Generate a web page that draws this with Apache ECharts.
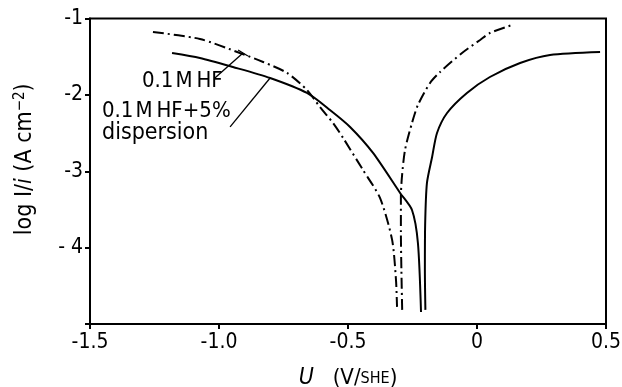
<!DOCTYPE html>
<html>
<head>
<meta charset="utf-8">
<script src="https://cdn.jsdelivr.net/npm/echarts@6/dist/echarts.min.js"></script>
<style>
html,body{margin:0;padding:0;background:#fff;}
#chart{width:622px;height:387px;}
</style>
</head>
<body>
<div id="chart"></div>
<script>
// ---- data (U in V/SHE, log|i| in A cm^-2) ----
var xTicks = [-1.5, -1.0, -0.5, 0, 0.5];
var xTickLabels = ['-1.5', '-1.0', '-0.5', '0', '0.5'];
var yTicks = [-5, -4, -3, -2, -1];
var yTickLabels = ['', '- 4', '-3', '-2', '-1'];

// 0.1 M HF (dash-dot), cathodic branch
var hfCathU = [-1.256, -1.074, -0.919, -0.829, -0.736, -0.659, -0.609, -0.558, -0.519, -0.442, -0.376, -0.329, -0.314, -0.310];
var hfCathLog = [-1.177, -1.268, -1.452, -1.569, -1.713, -1.936, -2.158, -2.368, -2.564, -2.983, -3.349, -3.899, -4.423, -4.776];
// 0.1 M HF (dash-dot), anodic branch
var hfAnU = [-0.290, -0.293, -0.295, -0.295, -0.291, -0.279, -0.252, -0.229, -0.182, -0.143, -0.058, 0.012, 0.050, 0.136];
var hfAnLog = [-4.815, -4.300, -3.800, -3.336, -3.075, -2.721, -2.368, -2.132, -1.844, -1.700, -1.452, -1.281, -1.190, -1.085];
// 0.1 M HF + 5% dispersion (solid), cathodic branch
var dispCathU = [-1.182, -1.074, -0.946, -0.802, -0.659, -0.570, -0.492, -0.403, -0.298, -0.252, -0.229, -0.217];
var dispCathLog = [-1.452, -1.517, -1.635, -1.779, -1.975, -2.198, -2.420, -2.760, -3.284, -3.507, -3.939, -4.842];
// 0.1 M HF + 5% dispersion (solid), anodic branch
var dispAnU = [-0.200, -0.202, -0.201, -0.194, -0.174, -0.155, -0.116, -0.039, 0.050, 0.167, 0.283, 0.477];
var dispAnLog = [-4.815, -4.300, -3.700, -3.153, -2.813, -2.499, -2.237, -1.975, -1.766, -1.583, -1.478, -1.439];

// leader lines from labels to curves [U1, log1, U2, log2]
var leaderHF = [-1.016, -1.779, -0.907, -1.452];
var leaderHFBar = [-0.926, -1.412, -0.888, -1.491];
var leaderDisp = [-0.957, -2.420, -0.802, -1.779];

var labelHF = '0.1\u200AM\u2009HF';
var labelDisp1 = '0.1\u200AM\u2009HF+5%';
var labelDisp2 = 'dispersion';

function pairs(xs, ys) { return xs.map(function (x, i) { return [x, ys[i]]; }); }

var FONT = '"DejaVu Sans Condensed", "Liberation Sans Narrow", "DejaVu Sans", sans-serif';
var dashDot = [11, 4, 2, 4];

var chart = echarts.init(document.getElementById('chart'), null, { renderer: 'canvas' });

function lineSeries(name, data, type, extra) {
  var s = {
    name: name, type: 'line', data: data, showSymbol: false, symbol: 'none',
    smooth: 0.25, animation: false, silent: true,
    lineStyle: { color: '#000', width: 2, type: type }
  };
  if (extra) for (var k in extra) s[k] = extra[k];
  return s;
}

function seg(s) { return [{ coord: [s[0], s[1]] }, { coord: [s[2], s[3]] }]; }

function leaders(list) {
  return {
    silent: true, symbol: ['none', 'none'], animation: false,
    label: { show: false },
    lineStyle: { color: '#000', width: 1.3, type: 'solid' },
    data: list.map(seg)
  };
}

var option = {
  backgroundColor: '#fff',
  animation: false,
  textStyle: { fontFamily: FONT, color: '#000' },
  grid: { left: 90, right: 16, top: 18.5, bottom: 63, containLabel: false, outerBoundsMode: 'none',
          show: true, borderColor: '#000', borderWidth: 2, backgroundColor: 'transparent' },
  xAxis: {
    type: 'value', min: -1.5, max: 0.5, interval: 0.5,
    axisLine: { show: true, onZero: false, lineStyle: { color: '#000', width: 2 } },
    axisTick: { show: true, length: 5, lineStyle: { color: '#000', width: 2 } },
    splitLine: { show: false },
    axisLabel: {
      color: '#000', fontSize: 21, fontFamily: FONT, margin: 8,
      formatter: function (v) { var i = xTicks.indexOf(Math.round(v * 10) / 10); return i >= 0 ? xTickLabels[i] : ''; }
    },
    name: '{i|U}   (V/{s|SHE})', nameLocation: 'middle', nameGap: 43,
    nameTextStyle: {
      color: '#000', fontSize: 22, fontFamily: FONT,
      rich: {
        i: { fontStyle: 'italic', fontSize: 23, fontFamily: FONT, color: '#000' },
        s: { fontSize: 16, fontFamily: FONT, color: '#000' }
      }
    }
  },
  yAxis: {
    type: 'value', min: -5, max: -1, interval: 1,
    axisLine: { show: true, onZero: false, lineStyle: { color: '#000', width: 2 } },
    axisTick: { show: true, length: 5, lineStyle: { color: '#000', width: 2 } },
    splitLine: { show: false },
    axisLabel: {
      color: '#000', fontSize: 21, fontFamily: FONT, margin: 7,
      formatter: function (v) { var i = yTicks.indexOf(Math.round(v)); return i >= 0 ? yTickLabels[i] : ''; }
    },
    name: 'log I/{i|i} (A cm{sup|−2})', nameLocation: 'middle', nameGap: 52, nameRotate: 90,
    nameTextStyle: {
      color: '#000', fontSize: 23, fontFamily: FONT, padding: [0, 0, 0, 24],
      rich: {
        i: { fontStyle: 'italic', fontSize: 23, fontFamily: FONT, color: '#000' },
        sup: { fontSize: 15, fontFamily: FONT, color: '#000', verticalAlign: 'top', padding: [0, 0, 10, 0] }
      }
    }
  },
  series: [
    lineSeries('0.1 M HF', pairs(hfCathU, hfCathLog), dashDot, { markLine: leaders([leaderHF, leaderHFBar]) }),
    lineSeries('0.1 M HF', pairs(hfAnU, hfAnLog), dashDot),
    lineSeries('0.1 M HF+5% dispersion', pairs(dispCathU, dispCathLog), 'solid', { markLine: leaders([leaderDisp]) }),
    lineSeries('0.1 M HF+5% dispersion', pairs(dispAnU, dispAnLog), 'solid')
  ],
  graphic: [
    { type: 'text', left: 142, top: 70, style: { text: labelHF, font: '22px ' + FONT, fill: '#000' } },
    { type: 'text', left: 102, top: 100, style: { text: labelDisp1, font: '22px ' + FONT, fill: '#000' } },
    { type: 'text', left: 102, top: 122, style: { text: labelDisp2, font: '23px ' + FONT, fill: '#000' } }
  ]
};
chart.setOption(option);
</script>
</body>
</html>
